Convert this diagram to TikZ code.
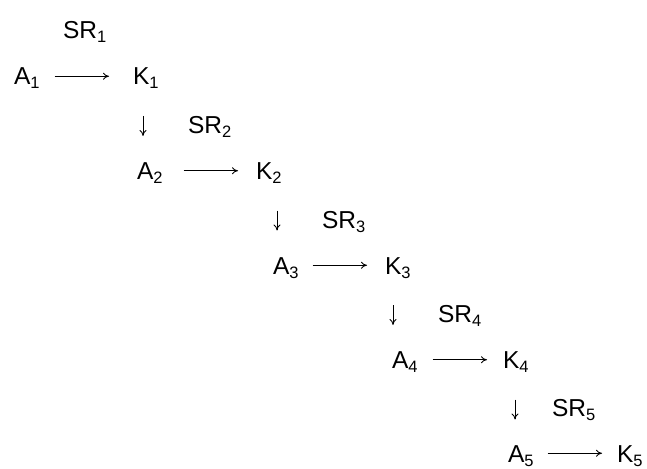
\documentclass[tikz,border=0pt]{standalone}
\usepackage{fontspec}
\setmainfont{Liberation Sans}
\usetikzlibrary{arrows.meta}
% lowered, smaller index digit
\newcommand\idx[1]{\raisebox{-4pt}{\fontsize{16.5}{16.5}\selectfont #1}}
\begin{document}
\begin{tikzpicture}[x=1pt,y=-1pt,
  lbl/.style={anchor=base west,inner sep=0pt,outer sep=0pt,
    text height=17.5pt,text depth=0pt,font=\fontsize{24.5}{29}\selectfont},
  harrow/.style={line width=0.85pt,-{To[length=6pt,width=7pt]}},
  darrow/.style={line width=0.85pt,-{To[length=6pt,width=7pt]}}]
\useasboundingbox (0,0) rectangle (647,468);

% chain labels
\node[lbl] (SR1) at (63,39)    {SR\idx{1}};
\node[lbl] (A1)  at (14,85)    {A\idx{1}};
\node[lbl] (K1)  at (133,85)   {K\idx{1}};
\node[lbl] (SR2) at (188,133.5) {SR\idx{2}};
\node[lbl] (A2)  at (137,179.5) {A\idx{2}};
\node[lbl] (K2)  at (256,179.5) {K\idx{2}};
\node[lbl] (SR3) at (322,228)  {SR\idx{3}};
\node[lbl] (A3)  at (273,274)  {A\idx{3}};
\node[lbl] (K3)  at (385,274)  {K\idx{3}};
\node[lbl] (SR4) at (438,322.5) {SR\idx{4}};
\node[lbl] (A4)  at (392,368.5) {A\idx{4}};
\node[lbl] (K4)  at (503,368.5) {K\idx{4}};
\node[lbl] (SR5) at (552,416.5) {SR\idx{5}};
\node[lbl] (A5)  at (508,462)  {A\idx{5}};
\node[lbl] (K5)  at (617,462)  {K\idx{5}};

% horizontal arrows A_n -> K_n
\draw[harrow] ([xshift=15pt]A1.east) -- ([xshift=-24pt]K1.west);
\draw[harrow] ([xshift=21pt]A2.east) -- ([xshift=-18pt]K2.west);
\draw[harrow] ([xshift=14pt]A3.east) -- ([xshift=-18pt]K3.west);
\draw[harrow] ([xshift=15pt]A4.east) -- ([xshift=-16pt]K4.west);
\draw[harrow] ([xshift=14pt]A5.east) -- ([xshift=-15pt]K5.west);

% short down arrows below K_n
\coordinate (d1s) at ([xshift=10pt,yshift=-31pt]K1.base west);
\coordinate (d1e) at ([xshift=10pt,yshift=-51pt]K1.base west);
\coordinate (d2s) at ([xshift=21pt,yshift=-31pt]K2.base west);
\coordinate (d2e) at ([xshift=21pt,yshift=-51pt]K2.base west);
\coordinate (d3s) at ([xshift=8pt,yshift=-31pt]K3.base west);
\coordinate (d3e) at ([xshift=8pt,yshift=-51pt]K3.base west);
\coordinate (d4s) at ([xshift=12pt,yshift=-31pt]K4.base west);
\coordinate (d4e) at ([xshift=12pt,yshift=-51pt]K4.base west);
\draw[darrow] (d1s) -- (d1e);
\draw[darrow] (d2s) -- (d2e);
\draw[darrow] (d3s) -- (d3e);
\draw[darrow] (d4s) -- (d4e);
\end{tikzpicture}
\end{document}
